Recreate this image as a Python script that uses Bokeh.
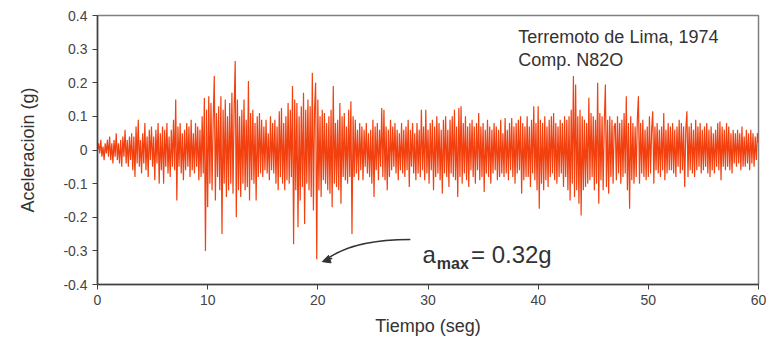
from bokeh.plotting import figure
from bokeh.embed import file_html
from bokeh.resources import INLINE
from bokeh.models import Label, Arrow, NormalHead, FixedTicker, Range1d

dt = 0.1
accel_rows = [
    [0.00, 0.02, -0.01, 0.03, -0.02, 0.01, -0.03, 0.02, -0.01, 0.03],
    [-0.02, 0.04, -0.03, 0.02, -0.04, 0.03, -0.02, 0.05, -0.03, 0.02],
    [-0.04, 0.03, -0.05, 0.04, -0.02, 0.06, -0.04, 0.03, -0.05, 0.04],
    [-0.03, 0.05, -0.06, 0.04, -0.08, 0.07, -0.04, 0.09, -0.05, 0.03],
    [-0.07, 0.05, -0.04, 0.08, -0.06, 0.04, -0.08, 0.06, -0.03, 0.07],
    [-0.05, 0.04, -0.09, 0.06, -0.04, 0.08, -0.10, 0.05, -0.06, 0.07],
    [-0.10, 0.06, -0.05, 0.08, -0.07, 0.04, -0.08, 0.06, -0.05, 0.09],
    [-0.06, 0.15, -0.15, 0.07, -0.05, 0.08, -0.07, 0.05, -0.09, 0.06],
    [-0.06, 0.08, -0.05, 0.07, -0.08, 0.09, -0.06, 0.05, -0.07, 0.08],
    [-0.05, 0.07, -0.09, 0.06, -0.08, 0.10, -0.07, 0.155, -0.30, 0.12],
    [-0.17, 0.16, -0.10, 0.14, -0.12, 0.09, 0.22, -0.15, 0.11, -0.08],
    [0.13, -0.12, 0.16, -0.25, 0.12, -0.10, 0.15, -0.14, 0.10, -0.12],
    [0.14, -0.10, 0.17, -0.13, 0.12, 0.265, -0.20, 0.15, -0.12, 0.10],
    [-0.14, 0.12, -0.10, 0.15, -0.12, 0.09, -0.11, 0.205, -0.15, 0.11],
    [-0.09, 0.12, -0.10, 0.08, -0.15, 0.10, -0.08, 0.11, -0.07, 0.09],
    [-0.08, 0.07, -0.06, 0.09, -0.07, 0.05, -0.09, 0.10, -0.06, 0.08],
    [-0.07, 0.09, -0.10, 0.07, -0.12, 0.115, -0.08, 0.125, -0.10, 0.08],
    [-0.12, 0.10, -0.09, 0.14, -0.10, 0.12, -0.08, 0.19, -0.28, 0.15],
    [-0.12, 0.14, -0.23, 0.10, -0.15, 0.13, -0.11, 0.17, -0.22, 0.12],
    [-0.10, 0.15, -0.12, 0.13, -0.14, 0.23, -0.18, 0.12, 0.20, -0.325],
    [0.15, -0.12, 0.10, -0.14, 0.12, -0.09, 0.11, -0.10, 0.08, -0.12],
    [0.10, -0.13, 0.12, -0.17, 0.19, -0.10, 0.08, -0.11, 0.09, -0.12],
    [0.14, -0.16, 0.10, -0.08, 0.11, -0.09, 0.07, -0.10, 0.12, -0.08],
    [0.145, -0.25, 0.10, -0.08, 0.09, -0.07, 0.06, -0.09, 0.08, -0.06],
    [0.07, -0.09, 0.06, -0.05, 0.08, -0.07, 0.05, -0.08, 0.06, -0.10],
    [0.09, -0.14, 0.07, -0.06, 0.08, -0.09, 0.06, -0.05, 0.125, -0.08],
    [0.12, -0.09, 0.07, -0.12, 0.06, -0.08, 0.09, -0.06, 0.07, -0.05],
    [0.08, -0.07, 0.06, -0.09, 0.05, -0.06, 0.08, -0.07, 0.06, -0.08],
    [0.07, -0.06, 0.09, -0.11, 0.06, -0.05, 0.08, -0.07, 0.05, -0.09],
    [0.08, -0.07, 0.06, -0.08, 0.12, -0.06, 0.07, -0.09, 0.12, -0.07],
    [0.06, -0.10, 0.08, -0.06, 0.09, -0.12, 0.07, -0.08, 0.10, -0.07],
    [0.08, -0.09, 0.06, -0.13, 0.09, -0.07, 0.10, -0.08, 0.06, -0.11],
    [0.09, -0.07, 0.10, -0.08, 0.12, -0.09, 0.07, -0.14, 0.125, -0.08],
    [0.13, -0.10, 0.08, -0.07, 0.10, -0.09, 0.07, -0.11, 0.08, -0.06],
    [0.09, -0.08, 0.07, -0.10, 0.08, -0.06, 0.11, -0.09, 0.07, -0.08],
    [0.08, -0.125, 0.06, -0.07, 0.09, -0.08, 0.07, -0.10, 0.06, -0.07],
    [0.08, -0.06, 0.07, -0.09, 0.06, -0.08, 0.09, -0.07, 0.05, -0.08],
    [0.095, -0.07, 0.06, -0.09, 0.08, -0.06, 0.095, -0.08, 0.07, -0.10],
    [0.08, -0.07, 0.09, -0.06, 0.10, -0.13, 0.08, -0.09, 0.07, -0.08],
    [0.10, -0.08, 0.07, -0.11, 0.09, -0.07, 0.13, -0.09, 0.08, -0.12],
    [0.13, -0.175, 0.09, -0.10, 0.08, -0.12, 0.10, -0.09, 0.07, -0.11],
    [0.09, -0.08, 0.10, -0.07, 0.11, -0.09, 0.08, -0.10, 0.07, -0.08],
    [0.09, -0.07, 0.08, -0.11, 0.10, -0.08, 0.09, -0.12, 0.10, -0.15],
    [0.12, -0.10, 0.22, -0.14, 0.195, -0.12, 0.10, -0.16, 0.12, -0.195],
    [0.10, -0.12, 0.09, -0.11, 0.08, -0.10, 0.155, -0.09, 0.11, -0.08],
    [0.10, -0.12, 0.09, -0.10, 0.20, -0.16, 0.11, -0.09, 0.10, -0.12],
    [0.08, 0.195, -0.11, 0.09, -0.13, 0.10, -0.08, 0.09, -0.10, 0.07],
    [0.08, -0.09, 0.10, -0.07, 0.08, -0.10, 0.09, -0.08, 0.11, -0.07],
    [0.16, -0.12, 0.08, -0.175, 0.10, -0.09, 0.08, -0.10, 0.07, -0.08],
    [0.09, 0.16, -0.10, 0.08, -0.07, 0.09, -0.08, 0.06, -0.09, 0.07],
    [-0.08, 0.10, -0.07, 0.06, 0.115, -0.10, 0.07, -0.06, 0.08, -0.07],
    [0.06, -0.08, 0.07, -0.06, 0.11, -0.09, 0.06, -0.07, 0.08, -0.06],
    [0.07, -0.06, 0.08, -0.07, 0.06, -0.08, 0.07, -0.05, 0.09, -0.07],
    [0.08, -0.06, 0.07, -0.11, 0.06, 0.115, -0.08, 0.07, -0.06, 0.08],
    [-0.07, 0.06, -0.08, 0.09, -0.06, 0.07, -0.05, 0.08, -0.07, 0.06],
    [-0.06, 0.07, -0.05, 0.08, -0.07, 0.06, -0.08, 0.07, -0.06, 0.05],
    [-0.07, 0.06, -0.05, 0.08, -0.06, 0.085, -0.09, 0.07, -0.05, 0.06],
    [-0.06, 0.08, -0.05, 0.07, -0.06, 0.05, -0.07, 0.06, -0.04, 0.05],
    [-0.05, 0.06, -0.04, 0.05, -0.06, 0.07, -0.05, 0.04, -0.05, 0.06],
    [-0.04, 0.05, -0.06, 0.06, -0.04, 0.05, -0.05, 0.04, -0.03, 0.05],
    [0.02],
]
x_ticks = [0, 10, 20, 30, 40, 50, 60]
y_ticks = [-0.4, -0.3, -0.2, -0.1, 0.0, 0.1, 0.2, 0.3, 0.4]
y_tick_labels = ["-0.4", "-0.3", "-0.2", "-0.1", "0", "0.1", "0.2", "0.3", "0.4"]

accel = [v for row in accel_rows for v in row]
time = [i * dt for i in range(len(accel))]

p = figure(width=767, height=338, output_backend="svg", toolbar_location=None,
           x_range=Range1d(0, 60), y_range=Range1d(-0.4, 0.4))
p.min_border_left = 97
p.min_border_right = 9
p.min_border_top = 15
p.min_border_bottom = 54
p.background_fill_color = "white"
p.border_fill_color = "white"
p.outline_line_color = "#808080"
p.outline_line_width = 1.5
p.grid.visible = False

p.line(time, accel, line_color="#f2400f", line_width=1.2)

FONT = "Liberation Sans"
# axes
p.xaxis.ticker = FixedTicker(ticks=x_ticks)
p.yaxis.ticker = FixedTicker(ticks=y_ticks)
p.yaxis.major_label_overrides = {t: l for t, l in zip(y_ticks, y_tick_labels)}
for ax in (p.xaxis[0], p.yaxis[0]):
    ax.axis_line_color = "#404040"
    ax.axis_line_width = 1.5
    ax.major_tick_line_color = "#404040"
    ax.major_tick_in = 0
    ax.major_tick_out = 5
    ax.minor_tick_line_color = None
    ax.major_label_text_font = FONT
    ax.major_label_text_font_size = "14px"
    ax.major_label_text_color = "#444444"
    ax.axis_label_text_font = FONT
    ax.axis_label_text_font_size = "18px"
    ax.axis_label_text_font_style = "normal"
    ax.axis_label_text_color = "#333333"
p.xaxis.major_label_standoff = 5
p.yaxis.major_label_standoff = 5
p.xaxis.axis_label = "Tiempo (seg)"
p.yaxis.axis_label = "Aceleracioin (g)"
p.xaxis.axis_label_standoff = 8
p.yaxis.axis_label_standoff = 22

# annotations
p.add_layout(Label(x=38.2, y=0.365, text="Terremoto de Lima, 1974", text_font=FONT,
                   text_font_size="18px", text_color="#333333", text_baseline="top"))
p.add_layout(Label(x=38.2, y=0.298, text="Comp. N82O", text_font=FONT,
                   text_font_size="18px", text_color="#333333", text_baseline="top"))

p.add_layout(Label(x=29.5, y=-0.31, text="a", text_font=FONT, text_font_size="24px",
                   text_color="#333333", text_baseline="alphabetic"))
p.add_layout(Label(x=30.8, y=-0.337, text="max", text_font=FONT, text_font_size="16px",
                   text_font_style="bold", text_color="#333333", text_baseline="alphabetic"))
p.add_layout(Label(x=33.9, y=-0.31, text="= 0.32g", text_font=FONT, text_font_size="24px",
                   text_color="#333333", text_baseline="alphabetic"))

p.quadratic(x0=[28.4], y0=[-0.266], x1=[20.6], y1=[-0.330], cx=[23.0], cy=[-0.266],
            line_color="#333333", line_width=1.5)
p.add_layout(Arrow(end=NormalHead(size=8, fill_color="#333333", line_color="#333333"),
                   x_start=21.3, y_start=-0.322, x_end=20.4, y_end=-0.332,
                   line_color="#333333", line_width=1.5))

open("out.html", "w").write(file_html(p, INLINE))
